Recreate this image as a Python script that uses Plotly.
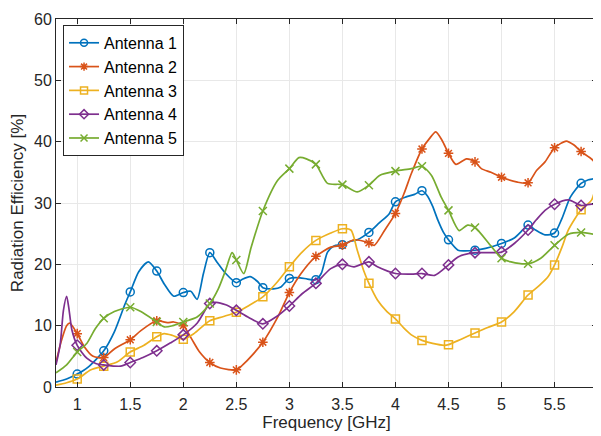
import numpy as np
import plotly.graph_objects as go

x1 = [0.80,0.90,1.00,1.10,1.25,1.35,1.45,1.50,1.58,1.67,1.75,1.82,1.91,2.00,2.07,2.13,2.19,2.25,2.32,2.40,2.50,2.55,2.63,2.70,2.75,2.85,2.92,3.00,3.10,3.17,3.25,3.30,3.36,3.42,3.50,3.58,3.64,3.75,3.85,3.94,4.00,4.10,4.18,4.25,4.30,4.35,4.40,4.45,4.50,4.59,4.65,4.75,4.85,5.00,5.12,5.20,5.25,5.32,5.41,5.50,5.57,5.65,5.75,5.82,5.87,5.90]
y1 = [0.8,1.3,2.1,3.2,5.9,9.0,13.5,15.5,18.8,20.4,18.9,16.8,14.8,15.4,15.6,14.3,18.5,21.9,20.3,18.5,17.0,17.5,18.0,17.2,16.2,16.0,16.3,17.7,17.8,17.6,17.5,18.5,22.0,23.0,23.2,23.8,24.0,25.2,26.8,28.2,30.2,31.0,31.4,32.0,31.2,29.5,27.2,25.3,24.0,22.3,22.2,22.3,22.6,23.4,24.3,25.6,26.4,25.6,24.8,25.1,27.5,31.0,33.2,33.8,34.0,36.0]

x2 = [0.80,0.85,0.90,0.93,1.00,1.07,1.15,1.25,1.35,1.50,1.60,1.75,1.85,1.91,2.00,2.08,2.15,2.25,2.35,2.50,2.56,2.65,2.75,2.89,3.00,3.11,3.25,3.39,3.50,3.61,3.75,3.80,3.90,4.00,4.08,4.15,4.25,4.32,4.38,4.44,4.50,4.57,4.67,4.75,4.81,4.90,5.00,5.15,5.25,5.33,5.41,5.50,5.61,5.68,5.75,5.86,5.90]
y2 = [4.0,7.5,10.0,10.4,8.7,6.5,5.0,4.8,6.2,7.7,9.2,10.8,10.5,10.6,10.0,7.8,5.8,4.0,3.1,2.8,3.6,5.2,7.3,11.4,15.4,18.5,21.3,22.8,23.1,24.0,23.5,23.1,25.6,28.3,31.5,34.8,38.8,40.5,41.6,40.2,38.1,36.3,37.2,36.7,35.6,35.0,34.2,33.4,33.3,35.3,36.7,39.0,40.1,39.5,38.4,37.0,35.9]

x3 = [0.80,0.90,1.00,1.13,1.25,1.38,1.50,1.63,1.75,1.82,1.90,2.00,2.10,2.25,2.38,2.50,2.62,2.75,2.88,3.00,3.12,3.25,3.39,3.50,3.58,3.64,3.70,3.75,3.83,3.92,4.00,4.08,4.15,4.25,4.35,4.46,4.50,4.62,4.75,4.87,5.00,5.12,5.25,5.36,5.44,5.50,5.57,5.63,5.75,5.85,5.90]
y3 = [0.3,0.7,1.3,2.8,3.4,4.1,5.7,6.8,8.2,8.7,8.4,7.8,8.7,10.8,11.5,12.2,13.3,14.7,17.0,19.6,22.0,23.9,25.1,25.8,25.6,22.3,19.0,16.9,14.2,12.3,11.1,9.6,8.5,7.6,7.1,6.8,6.9,7.8,8.8,9.7,10.6,12.3,15.0,16.6,18.0,19.9,22.8,25.6,28.9,30.5,34.0]

x4 = [0.80,0.84,0.87,0.90,0.92,0.95,1.00,1.09,1.18,1.25,1.41,1.50,1.62,1.75,1.88,2.00,2.13,2.25,2.31,2.40,2.50,2.62,2.75,2.88,3.00,3.12,3.25,3.39,3.50,3.61,3.75,3.83,4.00,4.15,4.25,4.37,4.50,4.59,4.75,4.87,5.00,5.12,5.25,5.33,5.41,5.50,5.63,5.75,5.86,5.90]
y4 = [3.6,7.0,12.5,14.8,13.0,9.3,6.8,4.7,3.8,3.6,3.4,4.0,4.8,5.9,7.2,8.5,10.4,13.6,13.8,13.4,12.5,11.3,10.3,11.5,13.2,15.2,16.9,19.3,20.0,19.6,20.4,19.6,18.5,18.4,18.5,18.2,19.9,21.2,21.9,21.9,22.0,23.4,25.6,27.3,28.8,29.8,30.5,29.6,29.8,29.1]

x5 = [0.80,0.90,1.00,1.09,1.17,1.25,1.35,1.50,1.60,1.75,1.82,1.90,2.00,2.13,2.25,2.33,2.40,2.46,2.50,2.57,2.64,2.75,2.89,3.00,3.09,3.16,3.25,3.36,3.50,3.64,3.75,3.85,4.00,4.15,4.25,4.34,4.43,4.50,4.60,4.68,4.75,4.90,5.00,5.09,5.25,5.37,5.50,5.63,5.75,5.90]
y5 = [2.3,3.6,5.7,7.1,9.5,11.2,12.3,13.0,12.3,10.6,9.8,10.0,10.6,11.4,13.6,16.0,19.1,21.9,20.7,18.5,22.8,28.7,33.7,35.6,37.4,37.2,36.3,33.2,33.0,31.8,32.9,34.5,35.2,35.6,36.0,34.5,31.0,28.8,25.5,26.4,26.0,23.0,21.0,20.4,20.1,21.0,23.1,24.9,25.2,24.8]

names = ["Antenna 1", "Antenna 2", "Antenna 3", "Antenna 4", "Antenna 5"]
colors = ["#0072BD", "#D95319", "#EDB120", "#7E2F8E", "#77AC30"]
symbols = ["circle-open", "asterisk-open", "square-open", "diamond-open", "x-thin-open"]
xticks = [1, 1.5, 2, 2.5, 3, 3.5, 4, 4.5, 5, 5.5]
yticks = [0, 10, 20, 30, 40, 50, 60]

series = [(x1, y1), (x2, y2), (x3, y3), (x4, y4), (x5, y5)]

fig = go.Figure()
for (xs, ys), nm, c, s in zip(series, names, colors, symbols):
    xs = np.array(xs); ys = np.array(ys)
    fig.add_trace(go.Scatter(x=xs, y=ys, mode="lines", line=dict(color=c, width=1.7, shape="spline", smoothing=0.7),
                             showlegend=False, legendgroup=nm, hoverinfo="skip"))
    m = (np.abs(xs * 4 - np.round(xs * 4)) < 1e-6) & (xs >= 0.99) & (xs <= 5.76)
    fig.add_trace(go.Scatter(x=xs[m], y=ys[m], mode="markers",
                             marker=dict(symbol=s, size=8, color=c, line=dict(width=1.5, color=c)),
                             showlegend=False, legendgroup=nm))
    fig.add_trace(go.Scatter(x=[None], y=[None], mode="lines+markers", name=nm, legendgroup=nm,
                             line=dict(color=c, width=1.7),
                             marker=dict(symbol=s, size=7, color=c, line=dict(width=1.5, color=c))))

axis_common = dict(showline=True, linecolor="#262626", linewidth=1, mirror="ticks", ticks="inside", ticklen=5,
                   tickcolor="#262626", showgrid=True, gridcolor="#E8E8E8", gridwidth=1, zeroline=False,
                   automargin=False,
                   tickfont=dict(family="Liberation Sans, Arial", size=16, color="#262626"))

fig.update_layout(
    width=601, height=436,
    margin=dict(l=48, r=12, t=11, b=57),
    paper_bgcolor="white", plot_bgcolor="white",
    font=dict(family="Liberation Sans, Arial", size=16, color="#262626"),
    xaxis=dict(range=[0.8, 5.9], tickvals=xticks, ticktext=[f"{v:g}" for v in xticks], ticklabelstandoff=3,
               title=dict(text="Frequency [GHz]", font=dict(size=17), standoff=2), **axis_common),
    yaxis=dict(range=[0, 60], tickvals=yticks,
               title=dict(text="Radiation Efficiency [%]", font=dict(size=17), standoff=6), **axis_common),
    legend=dict(x=0.013, y=0.984, xanchor="left", yanchor="top", bgcolor="white", bordercolor="#262626",
                borderwidth=1, font=dict(size=16, color="#000000"), tracegroupgap=0, itemwidth=30),
    showlegend=True,
)

fig.write_html("out.html")
